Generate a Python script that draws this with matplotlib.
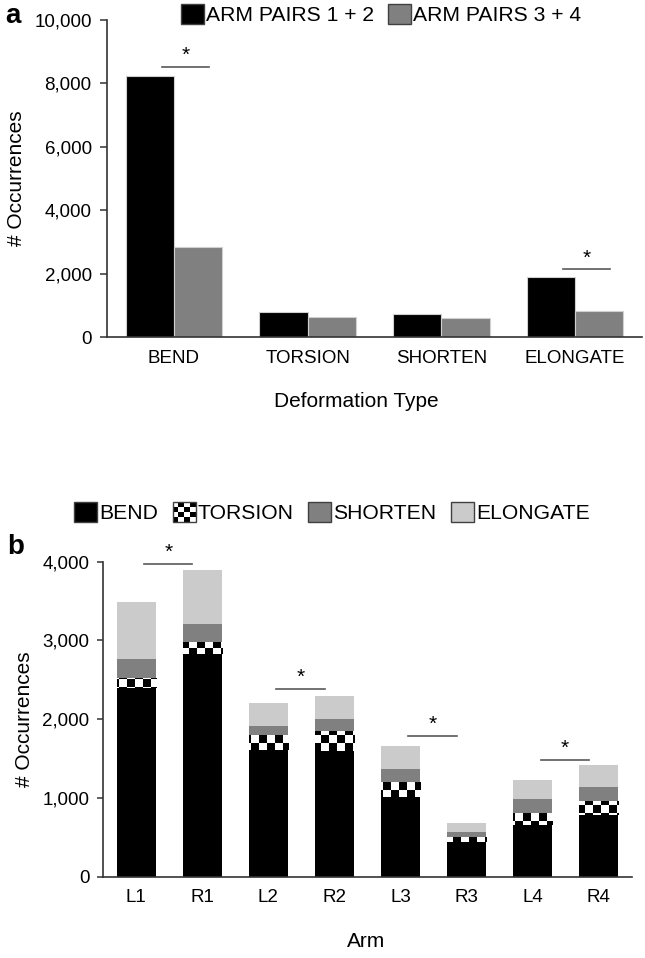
import numpy as np
import matplotlib
matplotlib.use('Agg')
import matplotlib.pyplot as plt
from matplotlib.patches import Patch, Rectangle
from matplotlib.legend_handler import HandlerBase
from matplotlib.ticker import FuncFormatter

plt.rcParams['font.family'] = ['Liberation Sans', 'DejaVu Sans']

# panel a data
deform_types = ['BEND', 'TORSION', 'SHORTEN', 'ELONGATE']
arm_pairs_12 = [8230, 790, 735, 1910]
arm_pairs_34 = [2850, 630, 600, 840]
sig_a_cats = ['BEND', 'ELONGATE']
sig_a_y = [8530, 2140]

# panel b data
arms = ['L1', 'R1', 'L2', 'R2', 'L3', 'R3', 'L4', 'R4']
bend = [2390, 2830, 1610, 1600, 1015, 435, 655, 780]
torsion = [130, 155, 190, 255, 190, 65, 160, 175]
shorten = [240, 225, 115, 150, 160, 65, 170, 185]
elongate = [730, 685, 285, 295, 300, 120, 240, 275]
sig_b_pairs = [('L1', 'R1'), ('L2', 'R2'), ('L3', 'R3'), ('L4', 'R4')]
sig_b_y = [3970, 2380, 1790, 1480]

W, H = 645, 958
fig = plt.figure(figsize=(W / 100, H / 100), dpi=100)

SIG_COLOR = '#595959'
SPINE = '#333333'
TICK_FS = 13.5
LABEL_FS = 15
LEG_FS = 15.2
thousands = FuncFormatter(lambda v, p: f'{v:,.0f}')


def style_axes(ax, ticklen):
    for s in ['top', 'right']:
        ax.spines[s].set_visible(False)
    for s in ['left', 'bottom']:
        ax.spines[s].set_color(SPINE)
        ax.spines[s].set_linewidth(1.2)
    ax.tick_params(axis='x', length=0, pad=9, labelsize=TICK_FS)
    ax.tick_params(axis='y', length=ticklen, width=1.1, color=SPINE, pad=6, labelsize=TICK_FS)
    ax.yaxis.set_major_formatter(thousands)


# ---------------- panel a ----------------
ax1 = fig.add_axes([107 / W, 1 - 337.3 / H, 535 / W, 317.3 / H])
x = np.arange(len(deform_types))
bw = 0.36
ax1.bar(x - bw / 2, arm_pairs_12, bw, color='black', edgecolor='#d0d0d0', linewidth=0.8)
ax1.bar(x + bw / 2, arm_pairs_34, bw, color='#808080', edgecolor='#d0d0d0', linewidth=0.8)
ax1.set_xticks(x)
ax1.set_xticklabels(deform_types)
ax1.set_xlim(-0.5, len(deform_types) - 0.5)
ax1.set_ylim(0, 10000)
ax1.set_yticks(np.arange(0, 10001, 2000))
style_axes(ax1, 5)
ax1.set_ylabel('# Occurrences', fontsize=LABEL_FS, labelpad=6)
ax1.set_xlabel('Deformation Type', fontsize=LABEL_FS)
ax1.xaxis.set_label_coords((356 - 107) / 535, (337.3 - 392) / 317.3)

for cat, yv in zip(sig_a_cats, sig_a_y):
    i = deform_types.index(cat)
    ax1.plot([i - 0.09, i + 0.26], [yv, yv], color=SIG_COLOR, lw=1.2)
    ax1.text(i + 0.085, yv + 60, '*', ha='center', va='bottom', fontsize=15)

h_a = [Patch(facecolor='black', edgecolor='#404040', lw=1),
       Patch(facecolor='#808080', edgecolor='#404040', lw=1)]
fig.legend(h_a, ['ARM PAIRS 1 + 2', 'ARM PAIRS 3 + 4'], loc='upper left',
           bbox_to_anchor=(181 / W, 1 - 4 / H), ncol=2, frameon=False,
           borderpad=0, borderaxespad=0, handlelength=1.1, handleheight=1.1,
           handletextpad=0.08, columnspacing=0.65, fontsize=LEG_FS)

# ---------------- panel b ----------------
ax2 = fig.add_axes([103.3 / W, 1 - 876.7 / H, 528.4 / W, 315 / H])
xb = np.arange(len(arms))
bw2 = 0.6
bend_a = np.array(bend)
tor_a = np.array(torsion)
sh_a = np.array(shorten)
el_a = np.array(elongate)
ax2.bar(xb, bend_a, bw2, color='black', linewidth=0)
tor_bars = ax2.bar(xb, tor_a, bw2, bottom=bend_a, color='white', linewidth=0)
ax2.bar(xb, sh_a, bw2, bottom=bend_a + tor_a, color='#808080', linewidth=0)
ax2.bar(xb, el_a, bw2, bottom=bend_a + tor_a + sh_a, color='#cbcbcb', linewidth=0)

# checkerboard fill for torsion segments
checker = (np.indices((40, 68)).sum(axis=0) % 2).astype(float)
for rect in tor_bars:
    im = ax2.imshow(checker, cmap='gray', extent=(0, 1, 0, 1), transform=ax2.transAxes,
                    interpolation='nearest', aspect='auto', zorder=2)
    im.set_clip_path(rect)

ax2.set_xticks(xb)
ax2.set_xticklabels(arms)
ax2.set_xlim(-0.5, len(arms) - 0.5)
ax2.set_ylim(0, 4000)
ax2.set_yticks(np.arange(0, 4001, 1000))
style_axes(ax2, 4)
ax2.set_ylabel('# Occurrences', fontsize=LABEL_FS, labelpad=6)
ax2.set_xlabel('Arm', fontsize=LABEL_FS)
ax2.xaxis.set_label_coords((366 - 103.3) / 528.4, (876.7 - 932) / 315)

for (l, r), yv in zip(sig_b_pairs, sig_b_y):
    i, j = arms.index(l), arms.index(r)
    ax2.plot([i + 0.12, j - 0.15], [yv, yv], color=SIG_COLOR, lw=1.2)
    ax2.text((i + j) / 2 - 0.015, yv + 25, '*', ha='center', va='bottom', fontsize=15)


class CheckerHandler(HandlerBase):
    def create_artists(self, legend, orig_handle, xdescent, ydescent, width, height, fontsize, trans):
        n = 4
        x0, y0 = -xdescent, -ydescent
        arts = [Rectangle((x0, y0), width, height, facecolor='white', edgecolor='none', transform=trans)]
        for i in range(n):
            for j in range(n):
                if (i + j) % 2 == 0:
                    arts.append(Rectangle((x0 + i * width / n, y0 + j * height / n), width / n, height / n,
                                          facecolor='black', edgecolor='none', transform=trans))
        arts.append(Rectangle((x0, y0), width, height, facecolor='none', edgecolor='#404040', lw=1,
                              transform=trans))
        return arts


tor_handle = Patch(facecolor='white')
h_b = [Patch(facecolor='black', edgecolor='#404040', lw=1), tor_handle,
       Patch(facecolor='#808080', edgecolor='#404040', lw=1),
       Patch(facecolor='#cbcbcb', edgecolor='#404040', lw=1)]
fig.legend(h_b, ['BEND', 'TORSION', 'SHORTEN', 'ELONGATE'], loc='upper left',
           bbox_to_anchor=(74 / W, 1 - 501.7 / H), ncol=4, frameon=False,
           borderpad=0, borderaxespad=0, handlelength=1.1, handleheight=1.1,
           handletextpad=0.08, columnspacing=0.7, fontsize=LEG_FS,
           handler_map={tor_handle: CheckerHandler()})

fig.text(5 / W, 1 - 3 / H, 'a', fontsize=20, fontweight='bold', va='top', ha='left')
fig.text(7 / W, 1 - 534 / H, 'b', fontsize=20, fontweight='bold', va='top', ha='left')

fig.savefig('out.png', dpi=100)
